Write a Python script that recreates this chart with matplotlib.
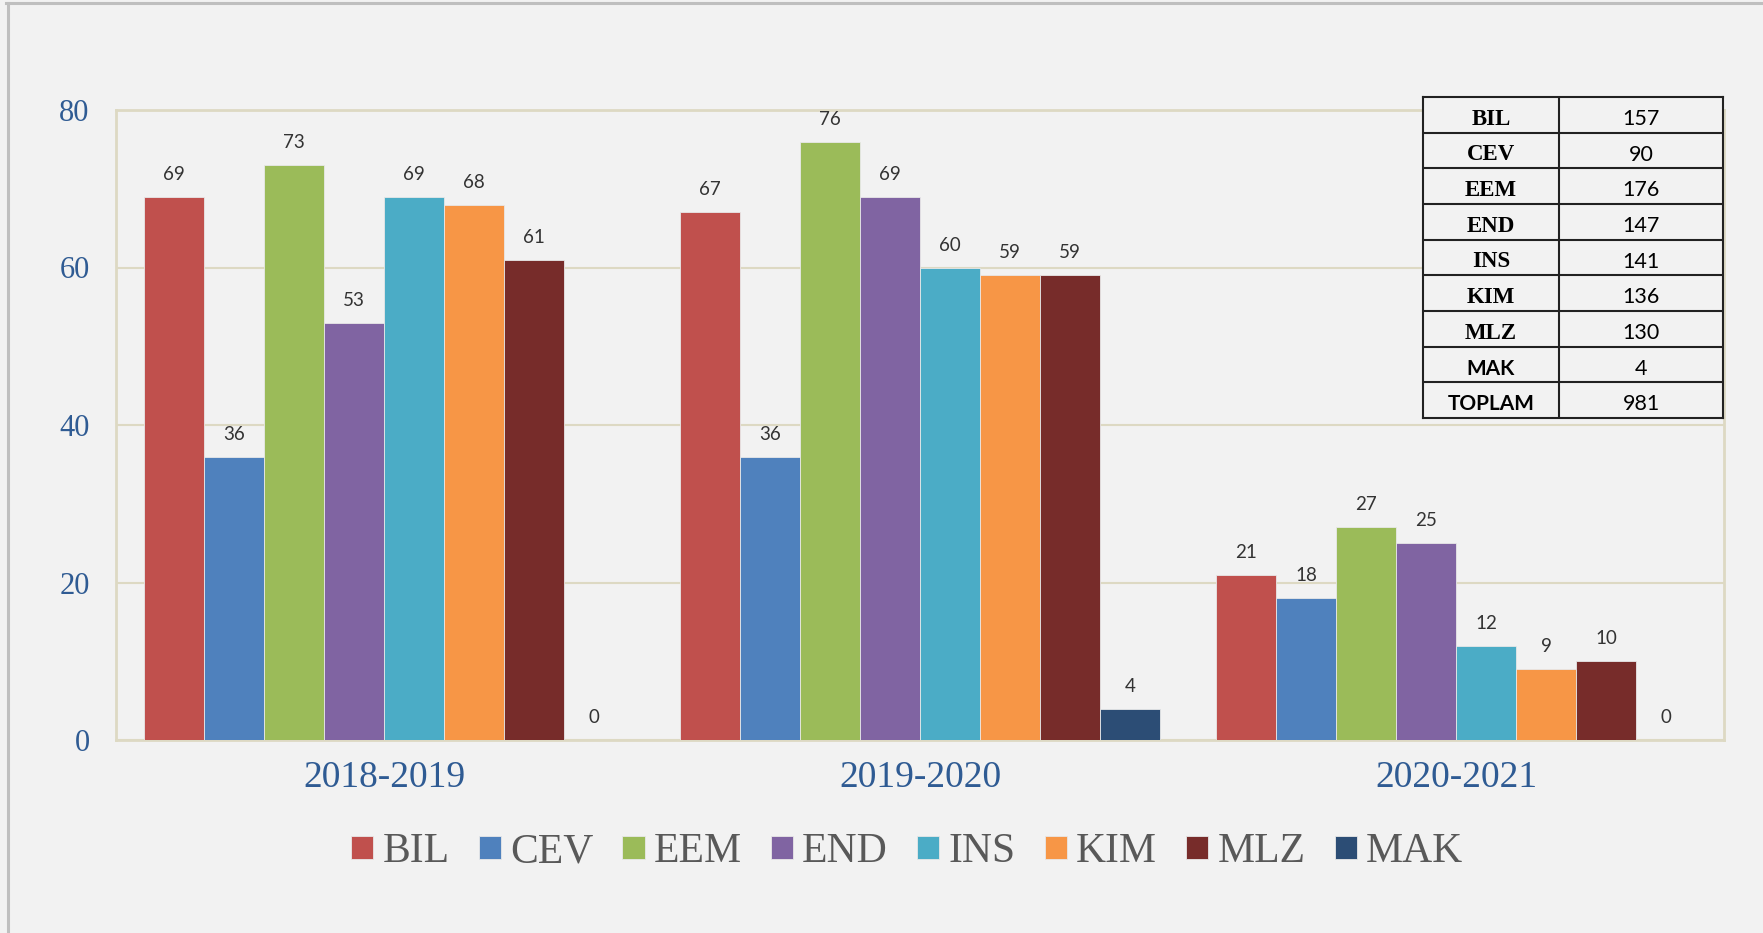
import numpy as np
import matplotlib.pyplot as plt
from matplotlib.lines import Line2D

# veriler
years = ["2018-2019", "2019-2020", "2020-2021"]
bolumler = ["BIL", "CEV", "EEM", "END", "INS", "KIM", "MLZ", "MAK"]
bil = [69, 67, 21]
cev = [36, 36, 18]
eem = [73, 76, 27]
end = [53, 69, 25]
ins = [69, 60, 12]
kim = [68, 59, 9]
mlz = [61, 59, 10]
mak = [0, 4, 0]
renkler = ["#c0504d", "#4f81bd", "#9bbb59", "#8064a2",
           "#4bacc6", "#f79646", "#772c2a", "#2c4d75"]

tablo_etiket = ["BIL", "CEV", "EEM", "END", "INS", "KIM", "MLZ", "MAK", "TOPLAM"]
tablo_deger = [157, 90, 176, 147, 141, 136, 130, 4, 981]

seriler = [bil, cev, eem, end, ins, kim, mlz, mak]

BG = "#f2f2f2"
GRID = "#ddd9c3"
MAVI = "#2f5b93"

fig = plt.figure(figsize=(17.63, 9.33), dpi=100, facecolor=BG)
ax = fig.add_axes([116 / 1763, 1 - 740 / 933, 1608 / 1763, 630 / 933])
ax.set_facecolor(BG)

x = np.arange(len(years))
w = 0.112
for i, (ad, vals) in enumerate(zip(bolumler, seriler)):
    pos = x + (i - 3.5) * w
    bars = ax.bar(pos, vals, w, color=renkler[i], edgecolor="#e8e8e8",
                  linewidth=0.6, label=ad, zorder=3)
    for b, v in zip(bars, vals):
        ax.annotate(str(v), (b.get_x() + b.get_width() / 2, v),
                    xytext=(0, 10), textcoords="offset points",
                    ha="center", va="bottom", fontsize=13.5,
                    family="Lato", color="#333333")

ax.set_xlim(-0.5, 2.5)
ax.set_ylim(0, 80)
ax.set_yticks([0, 20, 40, 60, 80])
ax.set_xticks(x)
ax.set_xticklabels(years)
ax.tick_params(axis="both", length=0)
ax.tick_params(axis="y", pad=19, labelsize=22, labelcolor=MAVI)
ax.tick_params(axis="x", pad=15, labelsize=27, labelcolor=MAVI)
for lab in ax.get_xticklabels() + ax.get_yticklabels():
    lab.set_family("Liberation Serif")
ax.grid(axis="y", color=GRID, linewidth=1.5, zorder=0)
for s in ax.spines.values():
    s.set_color(GRID)
    s.set_linewidth(2)

leg = fig.legend(loc="center", bbox_to_anchor=(907 / 1763, 1 - 852 / 933),
                 ncol=8, frameon=False, handlelength=0.53, handleheight=0.5,
                 handletextpad=0.22, columnspacing=0.7,
                 prop={"family": "Liberation Serif", "size": 30})
for t in leg.get_texts():
    t.set_color("#595959")

# sag ustteki tablo (elle cizildi)
tax = fig.add_axes([1423 / 1763, 1 - 418 / 933, 300 / 1763, 321 / 933])
tax.set_facecolor(BG)
tax.set_xlim(0, 300)
tax.set_ylim(len(tablo_etiket), 0)
tax.set_xticks([])
tax.set_yticks([])
for s in tax.spines.values():
    s.set_color("#222222")
    s.set_linewidth(1.5)
tax.hlines(np.arange(1, len(tablo_etiket)), 0, 300, color="#222222", linewidth=1.5)
tax.vlines(136, 0, len(tablo_etiket), color="#222222", linewidth=1.5)
for r, (e, d) in enumerate(zip(tablo_etiket, tablo_deger)):
    yc = r + 0.62
    if e in ("MAK", "TOPLAM"):
        tax.text(68, yc, e, ha="center", va="center", family="Lato",
                 weight="bold", fontsize=15, color="black")
    else:
        tax.text(68, yc, e, ha="center", va="center", family="Liberation Serif",
                 weight="bold", fontsize=16.5, color="black")
    tax.text(218, yc, str(d), ha="center", va="center", family="Lato",
             fontsize=15.5, color="black")

# cerceve cizgileri
fig.add_artist(Line2D([7.5 / 1763, 7.5 / 1763], [0, 1 - 2.5 / 933],
                      color="#bfbfbf", linewidth=2.2, transform=fig.transFigure))
fig.add_artist(Line2D([6 / 1763, 1], [1 - 2.5 / 933, 1 - 2.5 / 933],
                      color="#bfbfbf", linewidth=2.2, transform=fig.transFigure))

fig.savefig("out.png", dpi=100, facecolor=BG)
